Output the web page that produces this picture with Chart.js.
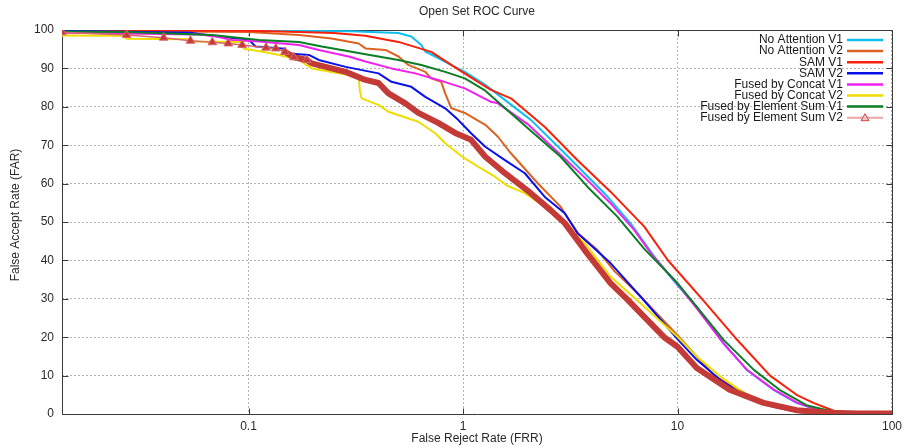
<!DOCTYPE html>
<html><head><meta charset="utf-8">
<script src="https://cdn.jsdelivr.net/npm/chart.js@4.4.0/dist/chart.umd.min.js"></script>
<style>html,body{margin:0;padding:0;background:#fff;}#wrap{width:907px;height:448px;}</style>
</head><body><div id="wrap"><canvas id="c" width="907" height="448"></canvas></div>
<script>
const chartTitle = 'Open Set ROC Curve';
const xAxisTitle = 'False Reject Rate (FRR)';
const yAxisTitle = 'False Accept Rate (FAR)';
const xTickValues = [0.1, 1, 10, 100];
const xTickLabels = ['0.1', '1', '10', '100'];
const yTickValues = [0, 10, 20, 30, 40, 50, 60, 70, 80, 90, 100];

const seriesNames = ['No Attention V1', 'No Attention V2', 'SAM V1', 'SAM V2',
  'Fused by Concat V1', 'Fused by Concat V2', 'Fused by Element Sum V1', 'Fused by Element Sum V2'];
const seriesColors = ['#10bff0', '#dd6221', '#f8200a', '#0a10e8', '#f020f0', '#eedd00', '#0a7f25', '#c33a37'];

const noAttV1_FRR = [0.0135, 0.3, 0.5, 0.574, 0.639, 0.667, 0.742, 0.88, 1.02, 1.27, 2.07, 2.98, 4.56, 6.03, 7.79, 10, 12.3, 16.4, 21.0, 28.0, 35.9, 47.7, 55, 100];
const noAttV1_FAR = [100, 99.7, 99.2, 98.3, 96.1, 94.4, 93.1, 90.9, 89.1, 85.7, 76.6, 67.9, 57.5, 49.7, 41.0, 33.5, 27.9, 18.5, 11.5, 6.3, 2.9, 0.6, 0, 0];

const noAttV2_FRR = [0.0135, 0.1, 0.172, 0.244, 0.326, 0.351, 0.435, 0.5, 0.556, 0.667, 0.711, 0.791, 0.826, 0.88, 1.02, 1.27, 1.455, 1.672, 2.23, 2.85, 3.42, 4.24, 5.08, 6.49, 10, 14.8, 21.0, 28, 35.9, 45, 100];
const noAttV2_FAR = [99.8, 99.5, 98.7, 97.8, 96.5, 95.2, 94.8, 93.1, 90.9, 89.1, 87.4, 86.5, 83.5, 79.7, 78.4, 75.3, 72.2, 67.9, 60.1, 54.0, 47.1, 42.7, 37.2, 31.5, 20.5, 10.0, 5.2, 2.0, 0.6, 0, 0];

const samV1_FRR = [0.0135, 0.1, 0.172, 0.25, 0.35, 0.5, 0.711, 0.99, 1.175, 1.35, 1.672, 2.40, 3.42, 4.87, 7.0, 9.0, 13.0, 18.5, 27, 35.9, 43, 55, 66, 100];
const samV1_FAR = [100, 99.8, 99.5, 99.2, 98.5, 96.9, 94.3, 89.1, 86.5, 84.4, 82.2, 74.8, 66.1, 57.9, 48.8, 40.1, 30, 20, 10, 5.0, 2.9, 0.6, 0, 0];

const samV2_FRR = [0.0135, 0.0536, 0.0707, 0.1, 0.108, 0.148, 0.154, 0.191, 0.2126, 0.2836, 0.4036, 0.4638, 0.574, 0.667, 0.826, 0.949, 1.09, 1.27, 1.568, 1.942, 2.40, 2.98, 3.42, 4.87, 7.0, 10, 12.3, 15.8, 21, 28, 35.9, 45, 100];
const samV2_FAR = [99.8, 99.3, 98.4, 97.5, 95.7, 95.1, 93.9, 93.5, 92.2, 90.4, 88.7, 86.5, 85.2, 82.6, 79.6, 76.6, 73.1, 69.6, 66.1, 62.7, 56.6, 52.3, 47.1, 39.3, 29.5, 19.5, 14.1, 8.9, 4.5, 1.9, 0.6, 0, 0];

const concatV1_FRR = [0.0135, 0.059, 0.0707, 0.0839, 0.112, 0.172, 0.2126, 0.293, 0.3512, 0.4638, 0.5993, 0.766, 1.02, 1.35, 1.455, 2.0, 2.85, 3.8, 4.87, 6.29, 7.6, 10, 12.3, 16.4, 21, 28, 35.9, 47.7, 55, 100];
const concatV1_FAR = [99.3, 98.8, 98.3, 97.4, 97.0, 96.1, 94.8, 93.1, 91.8, 90.0, 88.7, 87.0, 84.8, 81.3, 80.9, 75.5, 67.5, 60.9, 54.9, 47.9, 41.5, 33.8, 27.5, 18.3, 11.6, 6.4, 3.0, 0.6, 0, 0];

const concatV2_FRR = [0.0135, 0.026, 0.027, 0.053, 0.054, 0.093, 0.095, 0.115, 0.139, 0.172, 0.197, 0.326, 0.33, 0.3365, 0.4036, 0.449, 0.619, 0.742, 0.826, 0.99, 1.175, 1.409, 1.6, 1.942, 2.40, 3.69, 4.87, 7.0, 10, 12.3, 15.8, 21, 28, 35.9, 45, 100];
const concatV2_FAR = [98.6, 98.5, 97.7, 97.6, 97.0, 96.9, 95.1, 94.4, 93.5, 92.2, 90.0, 87.8, 84.4, 82.2, 80.5, 78.7, 76.1, 73.1, 70.5, 67.0, 64.4, 61.8, 59.5, 57.5, 54.0, 44.5, 35.8, 27.9, 20.1, 15.0, 9.8, 5.0, 2.0, 0.6, 0, 0];

const elemV1_FRR = [0.0135, 0.027, 0.0678, 0.112, 0.172, 0.2195, 0.2717, 0.3512, 0.5, 0.639, 0.826, 1.02, 1.27, 2.0, 2.85, 3.8, 5.24, 7.0, 10, 12.3, 16.4, 22.7, 29.9, 39.9, 53.3, 60, 100];
const elemV1_FAR = [99.6, 99.5, 98.7, 97.4, 96.9, 95.7, 94.8, 93.7, 92.2, 90.9, 89.1, 87.4, 84.2, 74.5, 67.0, 59.2, 51.4, 43.0, 34.1, 27.9, 19.3, 11.5, 6.3, 2.3, 0.6, 0, 0];

const elemV2_FRR = [0.0135, 0.027, 0.0402, 0.0536, 0.0678, 0.0804, 0.0934, 0.1207, 0.134, 0.1478, 0.1627, 0.187, 0.197, 0.2836, 0.3512, 0.4036, 0.449, 0.5385, 0.619, 0.766, 0.919, 1.09, 1.27, 1.568, 2.07, 2.56, 2.98, 3.69, 4.87, 5.8, 7.0, 8.66, 10, 12.3, 17.5, 25.2, 35.9, 51, 70, 100];
const elemV2_FAR = [99.4, 98.7, 98.0, 97.2, 96.8, 96.5, 96.1, 95.4, 95.2, 94.3, 92.9, 92.2, 91.3, 89.1, 87.0, 86.2, 83.5, 80.9, 78.4, 75.8, 73.2, 71.4, 67.0, 62.7, 57.5, 53.1, 49.7, 42.7, 34.1, 30.0, 25.3, 20.0, 17.5, 12.0, 6.3, 2.9, 1.0, 0.3, 0.1, 0.1];

const seriesFRR = [noAttV1_FRR, noAttV2_FRR, samV1_FRR, samV2_FRR, concatV1_FRR, concatV2_FRR, elemV1_FRR, elemV2_FRR];
const seriesFAR = [noAttV1_FAR, noAttV2_FAR, samV1_FAR, samV2_FAR, concatV1_FAR, concatV2_FAR, elemV1_FAR, elemV2_FAR];

const MARK_LIMIT = 0.19;
const THICK_FROM = 0.145;
const FONT = '"Liberation Sans", Arial, sans-serif';

const datasets = seriesNames.map((name, i) => {
  const data = seriesFRR[i].map((v, j) => ({x: v, y: seriesFAR[i][j]}));
  const ds = {
    label: name, data, borderColor: seriesColors[i], borderWidth: 2,
    pointRadius: 0, fill: false, tension: 0, order: seriesNames.length - i,
    borderJoinStyle: 'round', borderCapStyle: 'round'
  };
  if (i === 7) {
    ds.pointStyle = 'triangle';
    ds.pointRadius = seriesFRR[i].map(v => v < MARK_LIMIT ? 5 : 0);
    ds.pointBackgroundColor = '#c53b3b';
    ds.pointBorderColor = '#d86a6a';
    ds.pointBorderWidth = 1;
    ds.segment = {
      borderWidth: c => c.p0.parsed.x < THICK_FROM ? 1.5 : 6,
      borderColor: c => c.p0.parsed.x < THICK_FROM ? '#d66a6a' : '#c33a37'
    };
  }
  return ds;
});

const decor = {
  id: 'decor',
  beforeDatasetsDraw(chart) {
    const {ctx, chartArea: a, scales: {x, y}} = chart;
    ctx.save();
    const L = Math.round(a.left) + 0.5, R = Math.round(a.right) + 0.5;
    const T = Math.round(a.top) + 0.5, B = Math.round(a.bottom) + 0.5;
    ctx.strokeStyle = '#3a3a3a'; ctx.lineWidth = 1;
    ctx.beginPath();
    ctx.moveTo(L, T); ctx.lineTo(R, T); ctx.lineTo(R, B); ctx.lineTo(L, B); ctx.closePath();
    ctx.stroke();
    ctx.beginPath();
    yTickValues.forEach(v => {
      const p = Math.round(y.getPixelForValue(v)) + 0.5;
      ctx.moveTo(L, p); ctx.lineTo(L + 6, p);
      ctx.moveTo(R, p); ctx.lineTo(R - 6, p);
    });
    xTickValues.forEach(v => {
      const p = Math.round(x.getPixelForValue(v)) + 0.5;
      ctx.moveTo(p, B); ctx.lineTo(p, B - 6);
      ctx.moveTo(p, T); ctx.lineTo(p, T + 6);
    });
    ctx.stroke();
    ctx.restore();
  },
  afterDraw(chart) {
    const {ctx, chartArea: a} = chart;
    ctx.save();
    ctx.fillStyle = '#2a2a2a';
    ctx.font = '12px ' + FONT;
    ctx.textAlign = 'center'; ctx.textBaseline = 'middle';
    ctx.fillText(chartTitle, (a.left + a.right) / 2, 12);
    ctx.fillText(xAxisTitle, (a.left + a.right) / 2, 439);
    ctx.save();
    ctx.translate(16, 215); ctx.rotate(-Math.PI / 2);
    ctx.fillText(yAxisTitle, 0, 0);
    ctx.restore();
    // legend
    ctx.textAlign = 'right';
    seriesNames.forEach((name, i) => {
      const yy = 40 + i * 11.1;
      ctx.fillStyle = '#1a1a1a';
      ctx.fillText(name, 843, yy);
      ctx.beginPath();
      ctx.moveTo(847, yy); ctx.lineTo(883, yy);
      if (i === 7) {
        ctx.strokeStyle = '#e8a6a6'; ctx.lineWidth = 2; ctx.stroke();
        ctx.beginPath();
        ctx.moveTo(865, yy - 4); ctx.lineTo(869, yy + 3); ctx.lineTo(861, yy + 3); ctx.closePath();
        ctx.fillStyle = '#f3c4c4'; ctx.fill();
        ctx.strokeStyle = '#d04848'; ctx.lineWidth = 1; ctx.stroke();
      } else {
        ctx.strokeStyle = seriesColors[i]; ctx.lineWidth = 2.5; ctx.stroke();
      }
    });
    ctx.restore();
  }
};

new Chart(document.getElementById('c'), {
  type: 'line',
  data: {datasets},
  plugins: [decor],
  options: {
    responsive: false, animation: false, devicePixelRatio: 1,
    layout: {padding: {top: 30, right: 12, left: 0, bottom: 0}},
    plugins: {legend: {display: false}, title: {display: false}, tooltip: {enabled: false}},
    scales: {
      x: {
        type: 'logarithmic', min: 0.0135, max: 100,
        afterFit: s => { s.height = 34; },
        afterBuildTicks: s => { s.ticks = xTickValues.map(v => ({value: v})); },
        ticks: {
          autoSkip: false, maxRotation: 0, padding: 5, color: '#2a2a2a',
          font: {family: FONT, size: 12},
          callback: (v, i) => xTickLabels[i]
        },
        grid: {color: '#b4b4b4', lineWidth: 1, drawTicks: false},
        border: {display: false, dash: [2, 2]}
      },
      y: {
        type: 'linear', min: 0, max: 100,
        afterFit: s => { s.width = 62; },
        afterBuildTicks: s => { s.ticks = yTickValues.map(v => ({value: v})); },
        ticks: {padding: 8, color: '#2a2a2a', font: {family: FONT, size: 12}},
        grid: {color: '#b4b4b4', lineWidth: 1, drawTicks: false},
        border: {display: false, dash: [2, 2]}
      }
    }
  }
});
</script>
</body></html>
